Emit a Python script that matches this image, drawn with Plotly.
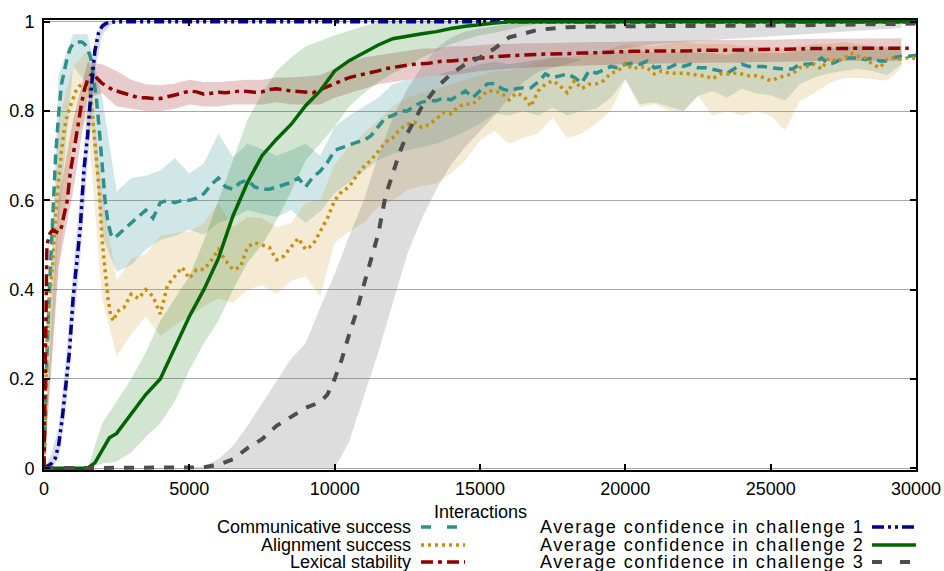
import plotly.graph_objects as go

# ---------------- data ----------------
X_EARLY = list(range(0, 2500, 100))          # 0 .. 2400
X_LATE = list(range(2500, 30001, 250))       # 2500 .. 30000
X_LINE = X_EARLY + X_LATE
X_BAND = list(range(0, 30000, 500))          # 0 .. 29500

comm_success = [
    0.0, 0.25, 0.42, 0.58, 0.70, 0.79, 0.86, 0.89, 0.92, 0.94, 0.95, 0.955, 0.955,
    0.955, 0.95, 0.94, 0.92, 0.88, 0.83, 0.76, 0.68, 0.60, 0.55, 0.525, 0.515,
    0.52, 0.535, 0.55, 0.565, 0.578, 0.56, 0.595, 0.60, 0.595, 0.60,
    0.60, 0.605, 0.615, 0.635, 0.65, 0.63, 0.625, 0.64, 0.645, 0.63,
    0.625, 0.625, 0.63, 0.635, 0.64, 0.65, 0.63, 0.652, 0.665, 0.685,
    0.712, 0.718, 0.725, 0.73, 0.734, 0.745, 0.765, 0.785, 0.79, 0.80,
    0.80, 0.812, 0.82, 0.823, 0.823, 0.83, 0.825, 0.835, 0.845, 0.83,
    0.845, 0.861, 0.862, 0.85, 0.845, 0.85, 0.852, 0.852, 0.865, 0.883,
    0.875, 0.879, 0.883, 0.875, 0.863, 0.89, 0.885, 0.892, 0.90, 0.897,
    0.905, 0.907, 0.905, 0.912, 0.897, 0.90, 0.897, 0.905, 0.90, 0.905,
    0.897, 0.897, 0.894, 0.89, 0.885, 0.895, 0.905, 0.90, 0.90, 0.90,
    0.897, 0.895, 0.894, 0.894, 0.905, 0.905, 0.907, 0.919, 0.905, 0.91,
    0.919, 0.919, 0.919, 0.915, 0.919, 0.912, 0.912, 0.92, 0.923, 0.923,
    0.925,
]
align_success = [
    0.0, 0.28, 0.39, 0.46, 0.57, 0.65, 0.71, 0.76, 0.79, 0.81, 0.828, 0.845, 0.855,
    0.86, 0.862, 0.86, 0.84, 0.765, 0.70, 0.62, 0.51, 0.45, 0.38, 0.34, 0.33,
    0.35, 0.36, 0.39, 0.38, 0.40, 0.385, 0.345, 0.41, 0.43, 0.45,
    0.425, 0.445, 0.445, 0.465, 0.49, 0.465, 0.445, 0.45, 0.495, 0.505,
    0.50, 0.495, 0.467, 0.475, 0.496, 0.515, 0.49, 0.50, 0.53, 0.56,
    0.60, 0.62, 0.63, 0.655, 0.675, 0.69, 0.71, 0.73, 0.74, 0.76,
    0.77, 0.775, 0.763, 0.77, 0.783, 0.797, 0.794, 0.81, 0.816, 0.815,
    0.83, 0.845, 0.845, 0.84, 0.825, 0.84, 0.834, 0.81, 0.845, 0.86,
    0.868, 0.857, 0.841, 0.868, 0.85, 0.86, 0.861, 0.868, 0.885, 0.89,
    0.907, 0.894, 0.90, 0.897, 0.883, 0.89, 0.885, 0.885, 0.885, 0.883,
    0.88, 0.879, 0.872, 0.883, 0.883, 0.885, 0.883, 0.879, 0.879, 0.875,
    0.868, 0.874, 0.88, 0.883, 0.897, 0.90, 0.905, 0.894, 0.919, 0.912,
    0.916, 0.93, 0.923, 0.919, 0.905, 0.897, 0.916, 0.919, 0.916, 0.92,
    0.918,
]
lexical_stability = [
    0.0, 0.50, 0.525, 0.534, 0.53, 0.527, 0.54, 0.57, 0.60, 0.66, 0.70, 0.74, 0.79,
    0.82, 0.85, 0.87, 0.88, 0.885, 0.875, 0.868, 0.862, 0.858, 0.855, 0.85, 0.845,
    0.845, 0.84, 0.835, 0.83, 0.83, 0.828, 0.828, 0.832, 0.834, 0.84,
    0.845, 0.843, 0.838, 0.84, 0.842, 0.841, 0.843, 0.845, 0.844, 0.842,
    0.843, 0.848, 0.85, 0.847, 0.845, 0.844, 0.843, 0.841, 0.848, 0.855,
    0.862, 0.87, 0.875, 0.879, 0.882, 0.886, 0.89, 0.895, 0.898, 0.90,
    0.903, 0.905, 0.906, 0.907, 0.91, 0.912, 0.912, 0.913, 0.915, 0.917,
    0.919, 0.921, 0.922, 0.923, 0.924, 0.925, 0.926, 0.927, 0.928, 0.928,
    0.928, 0.928, 0.929, 0.929, 0.93, 0.93, 0.93, 0.931, 0.932, 0.933,
    0.934, 0.934, 0.934, 0.934, 0.934, 0.935, 0.935, 0.935, 0.935, 0.935,
    0.936, 0.936, 0.937, 0.937, 0.937, 0.937, 0.937, 0.937, 0.938, 0.938,
    0.938, 0.939, 0.939, 0.939, 0.939, 0.94, 0.94, 0.94, 0.941, 0.941,
    0.941, 0.941, 0.941, 0.941, 0.941, 0.941, 0.941, 0.941, 0.941, 0.941,
]

conf1_x = [0, 125, 250, 375, 500, 625, 750, 875, 1000, 1125, 1250, 1375, 1500,
           1625, 1750, 1875, 2000, 2125, 2250, 2500, 30000]
conf1_y = [0.0, 0.005, 0.01, 0.02, 0.05, 0.11, 0.18, 0.26, 0.38, 0.455, 0.54, 0.67,
           0.745, 0.85, 0.935, 0.975, 0.99, 0.996, 0.999, 1.0, 1.0]
conf2_x = [0, 1500, 1750, 2000, 2250, 2500, 3000, 3500, 4000, 4500, 5000, 5500,
           6000, 6500, 7000, 7500, 8000, 8500, 9000, 9500, 10000, 10500, 11000,
           11500, 12000, 12500, 13000, 13500, 14000, 14500, 15000, 15500, 16000, 30000]
conf2_y = [0.0, 0.0, 0.012, 0.04, 0.068, 0.078, 0.12, 0.165, 0.20, 0.27, 0.34, 0.40,
           0.47, 0.565, 0.64, 0.70, 0.737, 0.77, 0.812, 0.845, 0.89, 0.913, 0.93,
           0.948, 0.962, 0.968, 0.973, 0.978, 0.985, 0.99, 0.994, 0.997, 1.0, 1.0]
conf3_x = [0, 5000, 5500, 6000, 6500, 7000, 7500, 8000, 8500, 9000, 9500, 9750,
           10000, 10250, 10500, 10750, 11000, 11250, 11500, 11750, 12000, 12250,
           12500, 13000, 13500, 14000, 14500, 15000, 15500, 16000, 17000, 18000,
           20000, 22000, 24000, 26000, 28000, 30000]
conf3_y = [0.0, 0.0, 0.002, 0.008, 0.02, 0.045, 0.065, 0.095, 0.115, 0.135, 0.148,
           0.165, 0.20, 0.245, 0.30, 0.35, 0.41, 0.47, 0.525, 0.61, 0.66, 0.71,
           0.75, 0.81, 0.852, 0.883, 0.905, 0.92, 0.94, 0.965, 0.982, 0.988,
           0.99, 0.99, 0.991, 0.992, 0.994, 0.996]

# spread bands (on X_BAND)
comm_hi = [0.0, 0.88, 0.972, 0.972, 0.83, 0.62, 0.65, 0.655, 0.667, 0.695,
           0.66, 0.683, 0.75, 0.697, 0.727, 0.715, 0.70, 0.712, 0.727, 0.70,
           0.765, 0.79, 0.81, 0.83, 0.86, 0.87, 0.875, 0.88, 0.89, 0.895,
           0.905, 0.91, 0.905, 0.91, 0.915, 0.92, 0.92, 0.915, 0.925, 0.93,
           0.935, 0.935, 0.93, 0.93, 0.935, 0.93, 0.93, 0.925, 0.935, 0.93,
           0.93, 0.93, 0.935, 0.94, 0.94, 0.945, 0.945, 0.945, 0.94, 0.945]
comm_lo = [0.0, 0.55, 0.90, 0.86, 0.52, 0.44, 0.455, 0.49, 0.512, 0.52,
           0.534, 0.523, 0.55, 0.56, 0.578, 0.57, 0.563, 0.578, 0.55, 0.575,
           0.616, 0.64, 0.665, 0.69, 0.705, 0.712, 0.72, 0.727, 0.74, 0.755,
           0.772, 0.795, 0.79, 0.80, 0.79, 0.808, 0.79, 0.80, 0.805, 0.83,
           0.872, 0.816, 0.82, 0.81, 0.80, 0.834, 0.845, 0.83, 0.85, 0.84,
           0.835, 0.823, 0.86, 0.875, 0.885, 0.89, 0.895, 0.89, 0.88, 0.905]
align_hi = [0.0, 0.78, 0.90, 0.935, 0.62, 0.42, 0.47, 0.48, 0.52, 0.527,
            0.53, 0.55, 0.594, 0.54, 0.563, 0.56, 0.54, 0.55, 0.594, 0.60,
            0.68, 0.72, 0.75, 0.78, 0.81, 0.83, 0.84, 0.85, 0.86, 0.87,
            0.88, 0.89, 0.89, 0.90, 0.91, 0.92, 0.92, 0.925, 0.93, 0.94,
            0.95, 0.945, 0.945, 0.95, 0.955, 0.95, 0.95, 0.95, 0.945, 0.945,
            0.94, 0.94, 0.945, 0.95, 0.95, 0.955, 0.95, 0.945, 0.945, 0.945]
align_lo = [0.0, 0.45, 0.74, 0.78, 0.38, 0.25, 0.30, 0.34, 0.296, 0.32,
            0.34, 0.363, 0.38, 0.37, 0.40, 0.41, 0.39, 0.42, 0.43, 0.385,
            0.505, 0.53, 0.55, 0.585, 0.60, 0.623, 0.632, 0.638, 0.66, 0.69,
            0.734, 0.756, 0.727, 0.74, 0.75, 0.785, 0.739, 0.75, 0.772, 0.80,
            0.87, 0.808, 0.816, 0.80, 0.80, 0.834, 0.79, 0.80, 0.79, 0.80,
            0.79, 0.756, 0.823, 0.84, 0.861, 0.874, 0.874, 0.872, 0.868, 0.897]
lex_hi = [0.0, 0.60, 0.78, 0.91, 0.905, 0.89, 0.87, 0.86, 0.858, 0.862,
          0.87, 0.865, 0.865, 0.868, 0.87, 0.87, 0.875, 0.875, 0.878, 0.88,
          0.895, 0.91, 0.92, 0.925, 0.93, 0.935, 0.94, 0.94, 0.945, 0.945,
          0.948, 0.95, 0.95, 0.952, 0.952, 0.953, 0.953, 0.954, 0.955, 0.955,
          0.956, 0.956, 0.957, 0.957, 0.958, 0.958, 0.959, 0.959, 0.96, 0.96,
          0.96, 0.961, 0.961, 0.962, 0.962, 0.962, 0.963, 0.963, 0.963, 0.963]
lex_lo = [0.0, 0.45, 0.62, 0.83, 0.84, 0.81, 0.805, 0.80, 0.80, 0.805,
          0.815, 0.81, 0.81, 0.815, 0.815, 0.815, 0.82, 0.815, 0.815, 0.815,
          0.83, 0.84, 0.85, 0.86, 0.865, 0.87, 0.875, 0.88, 0.88, 0.885,
          0.89, 0.893, 0.895, 0.897, 0.898, 0.90, 0.90, 0.902, 0.903, 0.904,
          0.905, 0.906, 0.906, 0.907, 0.907, 0.908, 0.908, 0.909, 0.909, 0.91,
          0.91, 0.911, 0.911, 0.912, 0.912, 0.912, 0.913, 0.913, 0.913, 0.913]
conf2_hi = [0.0, 0.0, 0.0, 0.0, 0.10, 0.15, 0.20, 0.26, 0.33, 0.38,
            0.43, 0.51, 0.60, 0.69, 0.78, 0.84, 0.89, 0.92, 0.945, 0.957,
            0.97, 0.98, 0.99, 1.0, 1.0, 1.0, 1.0, 1.0, 1.0, 1.0] + [1.0] * 30
conf2_lo = [0.0, 0.0, 0.0, 0.0, 0.01, 0.015, 0.035, 0.07, 0.10, 0.15,
            0.22, 0.28, 0.33, 0.40, 0.46, 0.50, 0.555, 0.62, 0.69, 0.727,
            0.765, 0.81, 0.84, 0.865, 0.885, 0.90, 0.92, 0.935, 0.95, 0.96,
            0.97, 0.975, 0.983, 0.99, 0.995, 1.0, 1.0, 1.0, 1.0, 1.0] + [1.0] * 20
conf3_hi = [0.0] * 10 + [
            0.0, 0.005, 0.02, 0.05, 0.095, 0.145, 0.195, 0.245, 0.28, 0.36,
            0.435, 0.52, 0.60, 0.70, 0.785, 0.85, 0.90, 0.94, 0.965, 0.978,
            0.985, 0.99, 0.995, 1.0, 1.0, 1.0, 1.0, 1.0, 1.0, 1.0] + [1.0] * 20
conf3_lo = [0.0] * 20 + [
            0.0, 0.06, 0.16, 0.26, 0.37, 0.48, 0.56, 0.625, 0.68, 0.72,
            0.755, 0.79, 0.83, 0.865, 0.888, 0.897, 0.905, 0.915, 0.925, 0.935,
            0.94, 0.945, 0.95, 0.952, 0.955, 0.957, 0.96, 0.962, 0.964, 0.966,
            0.968, 0.97, 0.972, 0.974, 0.976, 0.978, 0.98, 0.982, 0.984, 0.986]
conf1_band_x = [0, 250, 500, 750, 1000, 1250, 1500, 1750, 2000, 2250, 2500, 3000, 29500]
conf1_hi = [0.0, 0.03, 0.09, 0.24, 0.44, 0.62, 0.82, 0.96, 1.0, 1.0, 1.0, 1.0, 1.0]
conf1_lo = [0.0, 0.0, 0.02, 0.13, 0.31, 0.47, 0.67, 0.89, 0.97, 0.99, 1.0, 1.0, 1.0]

x_ticks = [0, 5000, 10000, 15000, 20000, 25000, 30000]
y_ticks = [0, 0.2, 0.4, 0.6, 0.8, 1]

# ---------------- styles ----------------
TEAL, GOLD, RED = "#2e8f8f", "#c8900a", "#8f0000"
NAVY, GREEN, GRAY = "#00008b", "#006400", "#4d4d4d"

series = [
    ("Communicative success", X_LINE, comm_success, TEAL, "10px,6px", 3.5),
    ("Alignment success", X_LINE, align_success, GOLD, "3px,4px", 3.5),
    ("Lexical stability", X_LINE, lexical_stability, RED, "12px,5px,4px,5px", 3.5),
    ("Average confidence in challenge 1", conf1_x, conf1_y, NAVY,
     "10px,4px,3px,4px,3px,4px", 3.5),
    ("Average confidence in challenge 2", conf2_x, conf2_y, GREEN, "solid", 3.5),
    ("Average confidence in challenge 3", conf3_x, conf3_y, GRAY, "10px,10px", 4),
]
legend_dash = ["10px,16px", "3px,4px", "12px,5px,4px,5px",
               "12px,4px,3px,4px,3px,4px", "solid", "10px,18px"]
bands = [
    (X_BAND, comm_lo, comm_hi, "rgba(46,139,139,0.22)"),
    (X_BAND, align_lo, align_hi, "rgba(204,150,40,0.20)"),
    (X_BAND, lex_lo, lex_hi, "rgba(139,0,0,0.20)"),
    (conf1_band_x, conf1_lo, conf1_hi, "rgba(0,0,139,0.15)"),
    (X_BAND, conf2_lo, conf2_hi, "rgba(0,110,0,0.18)"),
    (X_BAND, conf3_lo, conf3_hi, "rgba(100,100,100,0.22)"),
]

fig = go.Figure()
for bx, lo, hi, col in bands:
    n = min(len(bx), len(lo), len(hi))
    xs = list(bx[:n]) + list(bx[:n])[::-1]
    ys = list(hi[:n]) + list(lo[:n])[::-1]
    fig.add_trace(go.Scatter(x=xs, y=ys, fill="toself", fillcolor=col,
                             line=dict(width=0), mode="lines",
                             hoverinfo="skip", showlegend=False))

for name, xs, ys, col, dash, w in series:
    n = min(len(xs), len(ys))
    fig.add_trace(go.Scatter(x=xs[:n], y=ys[:n], mode="lines", name=name,
                             line=dict(color=col, width=w, dash=dash),
                             showlegend=False))

# ---------------- layout ----------------
L, R, T, B = 44, 28, 20, 101
W, H = 944, 571
PW, PH = W - L - R, H - T - B

def px(xp):
    return (xp - L) / PW

def py(yp):
    return (H - B - yp) / PH

FONT = "Liberation Sans"
FS = 18
annotations = [dict(text="Interactions", x=0.5, y=py(512), xref="paper", yref="paper",
                    showarrow=False, xanchor="center", yanchor="middle",
                    font=dict(family=FONT, size=FS, color="black"))]
shapes = []
rows_y = [527, 545, 562]
for i, (name, xs, ys, col, dash, w) in enumerate(series):
    col_idx, row = divmod(i, 3)
    text_right = 413 if col_idx == 0 else 866
    s0, s1 = (421, 465) if col_idx == 0 else (872, 916)
    yy = rows_y[row]
    label = name if col_idx == 0 else (
        '<span style="letter-spacing:1.5px">' + name + '</span>')
    annotations.append(dict(text=label, x=px(text_right), y=py(yy), xref="paper",
                            yref="paper", showarrow=False, xanchor="right",
                            yanchor="middle",
                            font=dict(family=FONT, size=FS, color="black")))
    shapes.append(dict(type="line", xref="paper", yref="paper",
                       x0=px(s0), x1=px(s1), y0=py(yy), y1=py(yy),
                       line=dict(color=col, width=w, dash=legend_dash[i])))

fig.update_layout(
    width=W, height=H,
    margin=dict(l=L, r=R, t=T, b=B, autoexpand=False),
    paper_bgcolor="white", plot_bgcolor="white",
    font=dict(family=FONT, size=FS, color="black"),
    annotations=annotations, shapes=shapes,
    showlegend=False,
)
fig.update_xaxes(range=[0, 30000], tickvals=x_ticks, ticktext=[str(v) for v in x_ticks],
                 ticks="inside", ticklen=6, tickwidth=1.5, tickcolor="black",
                 showline=True, linewidth=2, linecolor="black", mirror="allticks",
                 showgrid=False, zeroline=False, ticklabelstandoff=1,
                 automargin=False)
fig.update_yaxes(range=[-0.004, 1.004], tickvals=y_ticks,
                 ticktext=["0", "0.2", "0.4", "0.6", "0.8", "1"],
                 ticks="inside", ticklen=6, tickwidth=1.5, tickcolor="black",
                 showline=True, linewidth=2, linecolor="black", mirror="allticks",
                 showgrid=True, gridcolor="#a8a8a8", gridwidth=1.3, zeroline=False,
                 ticklabelstandoff=4, automargin=False)

fig.write_html(
    "out.html",
    config={"displayModeBar": False},
    post_script="document.body.style.margin='0';document.body.style.overflow='hidden';",
)
